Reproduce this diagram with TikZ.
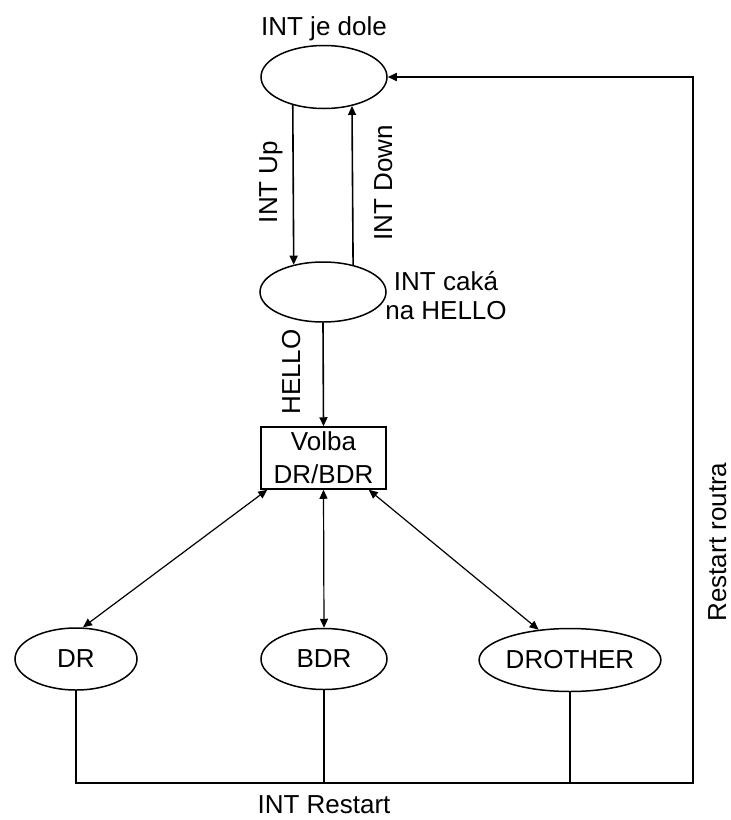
\documentclass[tikz,border=0pt]{standalone}
\usepackage{fontspec}
\setmainfont{Liberation Sans}
\usetikzlibrary{arrows.meta,shapes.geometric}
\begin{document}
\begin{tikzpicture}[x=1pt,y=-1pt,
  txt/.style={font=\fontsize{26}{29}\selectfont},
  lbl/.style={txt, inner sep=0pt},
  state/.style={draw, ellipse, line width=1.5pt, inner sep=0pt, txt},
  conn/.style={line width=1.6pt},
  diag/.style={line width=1.2pt},
  tip/.style={-{Triangle[length=9pt,width=8pt]}},
  both/.style={{Triangle[length=9pt,width=8pt]}-{Triangle[length=9pt,width=8pt]}},
  ]
\useasboundingbox (0,0) rectangle (731,820);
% states
\node[state, minimum width=126pt, minimum height=63pt] (e1) at (324,77) {};
\node[state, minimum width=126pt, minimum height=60pt] (e2) at (323,292) {};
\node[draw, line width=1.5pt, minimum width=125pt, minimum height=62pt, inner sep=0pt, align=center, font=\fontsize{26}{33}\selectfont] (box) at (323.5,458) {Volba\\DR/BDR};
\node[state, minimum width=122pt, minimum height=62pt] (dr) at (76,659) {DR};
\node[state, minimum width=126pt, minimum height=61pt] (bdr) at (324,659) {BDR};
\node[state, minimum width=149pt, minimum height=63pt] (droth) at (570,660) {DROTHER};
% labels
\node[lbl, anchor=base] (l1) at (324,35) {INT je dole};
\node[lbl, anchor=base, rotate=90] (lup) at (277,182) {INT Up};
\node[lbl, anchor=base, rotate=90] (ldown) at (392,183) {INT Down};
\node[lbl, align=center] (lwait) at (446,296) {INT caká\\na HELLO};
\node[lbl, anchor=base, rotate=90] (lhello) at (300,372) {HELLO};
\node[lbl, anchor=base] (lrst) at (324,813) {INT Restart};
\node[lbl, anchor=base, rotate=90] (lrr) at (726,542) {Restart routra};
% connectors
\draw[conn, tip] (e1.222.7) -- (e2.137.5);
\draw[conn, tip] (e2.42.5) -- (e1.314.8);
\draw[conn, tip] (e2.south) -- (box.north);
\draw[diag, both] ([xshift=7pt]box.south west) -- ([xshift=7pt]dr.north);
\draw[diag, both] (box.south) -- (bdr.north);
\draw[diag, both] ([xshift=-18pt]box.south east) -- (droth.136);
\coordinate (br) at (693,783);
\draw[conn, tip] (dr.south) |- (br) |- (e1.east);
\draw[conn] (bdr.south) -- (bdr.south |- br);
\draw[conn] (droth.south) -- (droth.south |- br);
\end{tikzpicture}
\end{document}
